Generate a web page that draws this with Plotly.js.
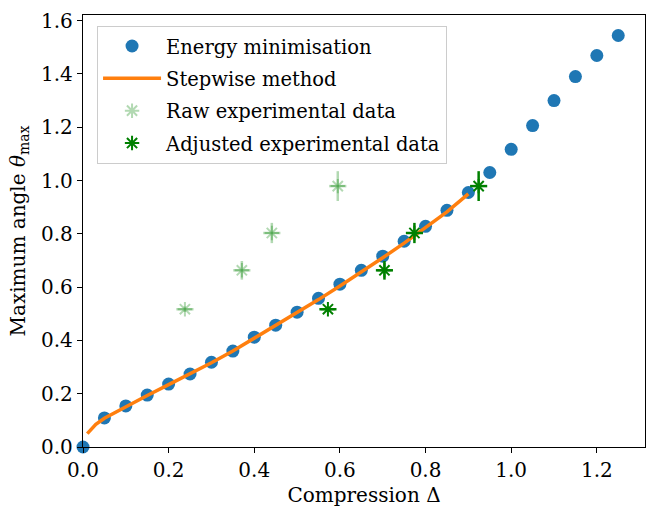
<!DOCTYPE html>
<html>
<head>
<meta charset="utf-8">
<script src="https://cdn.plot.ly/plotly-3.0.1.min.js"></script>
<style>html,body{margin:0;padding:0;background:#fff}#chart{width:646px;height:507px}</style>
</head>
<body>
<div id="chart"></div>
<script>
// Energy minimisation
var energyX = [0,0.05,0.1,0.15,0.2,0.25,0.3,0.35,0.4,0.45,0.5,0.55,0.6,0.65,0.7,0.75,0.8,0.85,0.9,0.95,1.0,1.05,1.1,1.15,1.2,1.25];
var energyY = [0,0.109,0.154,0.195,0.236,0.274,0.318,0.36,0.412,0.457,0.506,0.558,0.611,0.663,0.716,0.772,0.828,0.888,0.955,1.03,1.117,1.206,1.30,1.39,1.469,1.544];
// Stepwise method
var stepX = [0.01,0.03,0.05,0.1,0.15,0.2,0.25,0.3,0.35,0.4,0.45,0.5,0.55,0.6,0.65,0.7,0.75,0.8,0.85,0.9];
var stepY = [0.05,0.085,0.108,0.152,0.193,0.234,0.274,0.316,0.36,0.408,0.455,0.503,0.553,0.604,0.656,0.71,0.765,0.822,0.882,0.95];
// Raw experimental data
var rawX = [0.238,0.371,0.441,0.595];
var rawY = [0.517,0.663,0.803,0.979];
// Adjusted experimental data
var adjX = [0.572,0.704,0.774,0.924];
var adjY = [0.517,0.663,0.803,0.979];
var errX = [0.02,0.02,0.02,0.02];
var errY = [0.01,0.035,0.038,0.056];

var font = "DejaVu Serif, serif";
var traces = [
  {x: energyX, y: energyY, mode: 'markers', name: 'Energy minimisation', legendgroup: 'a',
   marker: {color: '#1f77b4', size: 13}, cliponaxis: false},
  {x: stepX, y: stepY, mode: 'lines', name: 'Stepwise method', legendgroup: 'b',
   line: {color: '#ff7f0e', width: 3.5}},
  {x: rawX, y: rawY, mode: 'markers', name: 'Raw experimental data', legendgroup: 'c',
   marker: {symbol: 'asterisk-open', size: 12, color: 'rgba(0,128,0,0.3)', line: {color: 'rgba(0,128,0,0.3)', width: 2}},
   error_x: {type: 'data', array: errX, color: 'rgba(0,128,0,0.3)', thickness: 2.5, width: 0},
   error_y: {type: 'data', array: errY, color: 'rgba(0,128,0,0.3)', thickness: 2.5, width: 0}},
  {x: adjX, y: adjY, mode: 'markers', name: 'Adjusted experimental data', legendgroup: 'd',
   marker: {symbol: 'asterisk-open', size: 12, color: '#008000', line: {color: '#008000', width: 2}},
   error_x: {type: 'data', array: errX, color: '#008000', thickness: 2.5, width: 0},
   error_y: {type: 'data', array: errY, color: '#008000', thickness: 2.5, width: 0}}
];

var layout = {
  width: 646, height: 507,
  margin: {l: 83, r: 1, t: 15, b: 60},
  paper_bgcolor: '#fff', plot_bgcolor: '#fff',
  font: {family: font, color: '#000', size: 20},
  showlegend: true,
  legend: {x: 0.025, y: 0.975, xanchor: 'left', yanchor: 'top', traceorder: 'grouped', tracegroupgap: 4,
    bgcolor: 'rgba(255,255,255,0.8)', bordercolor: '#cccccc', borderwidth: 1,
    font: {family: font, size: 19.5, color: '#000'}, itemwidth: 58},
  xaxis: {range: [0, 1.3125], tickvals: [0,0.2,0.4,0.6,0.8,1.0,1.2], ticktext: ['0.0','0.2','0.4','0.6','0.8','1.0','1.2'],
    ticks: 'outside', ticklen: 5, tickwidth: 1, tickcolor: '#000',
    showline: true, linecolor: '#000', linewidth: 1.2, mirror: true, showgrid: false, zeroline: false,
    tickfont: {family: font, size: 20},
    title: {text: 'Compression Δ', font: {family: font, size: 20}, standoff: 8}},
  yaxis: {range: [0, 1.621], tickvals: [0,0.2,0.4,0.6,0.8,1.0,1.2,1.4,1.6], ticktext: ['0.0','0.2','0.4','0.6','0.8','1.0','1.2','1.4','1.6'],
    ticks: 'outside', ticklen: 5, tickwidth: 1, tickcolor: '#000',
    showline: true, linecolor: '#000', linewidth: 1.2, mirror: true, showgrid: false, zeroline: false,
    tickfont: {family: font, size: 20},
    title: {text: 'Maximum angle <i>θ</i><sub>max</sub>', font: {family: font, size: 20}, standoff: 10}}
};

Plotly.newPlot('chart', traces, layout, {displayModeBar: false, staticPlot: true});
</script>
</body>
</html>
